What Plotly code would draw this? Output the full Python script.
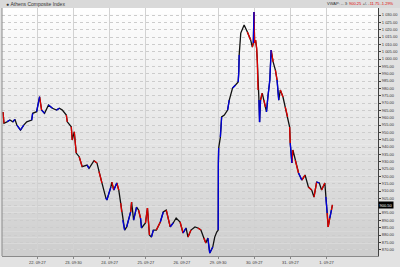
import plotly.graph_objects as go

# ---- data (day offsets from "22. 09:27", index level) ----
day_labels = ["22. 09:27", "23. 09:30", "24. 09:27", "25. 09:27", "26. 09:27",
              "29. 09:30", "30. 09:27", "31. 09:27", "1. 09:27"]
day_pos = [0, 1, 2, 3, 4, 5, 6, 7, 8]

t = [-0.950, -0.922, -0.840, -0.758, -0.676, -0.621, -0.566, -0.465, -0.375, -0.293,
     -0.156, -0.129, -0.019, 0.063, 0.118, 0.200, 0.309, 0.419, 0.528, 0.610,
     0.692, 0.802, 0.829, 0.939, 0.966, 1.021, 1.076, 1.158, 1.240, 1.377,
     1.431, 1.568, 1.650, 1.705, 1.787, 1.897, 1.924, 2.033, 2.061, 2.115,
     2.198, 2.252, 2.307, 2.334, 2.362, 2.416, 2.471, 2.581, 2.608, 2.663,
     2.745, 2.800, 2.854, 2.882, 2.991, 3.046, 3.101, 3.155, 3.210, 3.292,
     3.402, 3.484, 3.566, 3.676, 3.758, 3.840, 3.949, 4.031, 4.114, 4.168,
     4.250, 4.360, 4.442, 4.524, 4.606, 4.661, 4.716, 4.770, 4.852, 4.907,
     4.962, 5.003, 5.008, 5.016, 5.063, 5.098, 5.172, 5.263, 5.309, 5.400,
     5.482, 5.556, 5.572, 5.583, 5.627, 5.720, 5.810, 5.900, 5.947, 5.974,
     5.993, 6.010, 6.037, 6.065, 6.084, 6.103, 6.130, 6.147, 6.174, 6.221,
     6.267, 6.311, 6.338, 6.377, 6.431, 6.467, 6.522, 6.585, 6.631, 6.678,
     6.721, 6.795, 6.858, 6.924, 6.979, 6.995, 7.042, 7.069, 7.132, 7.225,
     7.315, 7.406, 7.499, 7.589, 7.652, 7.726, 7.800, 7.862, 7.953, 7.980,
     8.018, 8.045, 8.089, 8.136, 8.163]

price = [963.9, 956.2, 957.2, 958.4, 957.2, 958.9, 955.0, 951.6, 955.0, 957.2,
         958.4, 963.0, 964.1, 974.3, 965.2, 963.0, 968.6, 966.4, 965.2, 966.4,
         965.2, 961.8, 957.2, 953.8, 944.8, 950.4, 935.9, 933.4, 926.6, 927.7,
         925.5, 930.7, 929.1, 923.2, 915.5, 905.2, 903.9, 912.7, 916.1, 910.7,
         915.5, 910.7, 901.8, 895.7, 890.2, 883.4, 885.5, 895.7, 902.5, 890.2,
         899.1, 897.0, 891.6, 884.8, 888.2, 898.4, 880.0, 878.6, 883.4, 883.4,
         888.9, 895.7, 897.0, 885.5, 888.2, 891.6, 888.9, 881.4, 884.8, 878.6,
         883.4, 885.5, 884.8, 883.4, 878.0, 874.5, 878.0, 867.7, 871.8, 878.6,
         882.0, 883.4, 929.1, 939.3, 946.8, 960.5, 961.8, 965.2, 972.0, 980.2,
         982.3, 984.3, 991.1, 1002.7, 1017.7, 1023.2, 1018.4, 1013.0, 1008.2, 1010.9,
         1032.0, 1010.9, 1013.0, 1007.5, 999.3, 978.9, 972.0, 957.0, 972.0, 976.8,
         972.0, 967.3, 963.9, 974.1, 985.7, 1006.1, 998.0, 992.5, 985.7, 972.0,
         978.9, 974.1, 967.3, 960.5, 953.6, 942.7, 929.1, 938.0, 931.1, 922.3,
         917.5, 920.9, 912.7, 910.7, 905.9, 916.1, 915.5, 910.7, 915.5, 905.9,
         895.0, 885.5, 891.6, 897.0, 900.5]

# tick direction colour for the segment ending at each point
seg_color = "-rkbkbkbbkkbkbrbkbkbkkrkrkrkrkbkrkrkbbkrbrkrkbkbrkbkrbkrrkbkrbkrbkkrbkrkkrkrkbbkkkbbkbkkbkbkbbkkkrkrbrkrrrkbbrkrkbbbrkrbkrkrkrbrkrbrkrkrbkrkbrrbrbb"

y_ticks = [870 + 5 * i for i in range(33)]
title_text = "Athens Composite Index"
last_price = price[-1]

COL = {"k": "#111111", "r": "#e00000", "b": "#0000dd"}

fig = go.Figure()

# gradient background bands (style only)
nb = 40
for i in range(nb):
    c = int(255 - (255 - 206) * (i + 0.5) / nb)
    fig.add_shape(type="rect", xref="paper", yref="paper",
                  x0=0, x1=1, y0=1 - (i + 1) / nb, y1=1 - i / nb,
                  fillcolor=f"rgb({c},{c},{c})", line_width=0, layer="below")

# header bar
fig.add_shape(type="rect", xref="paper", yref="paper", x0=-0.01, x1=1.06,
              y0=1.0, y1=1.04, fillcolor="#d9d9d9", line_width=0, layer="below")

fig.add_trace(go.Scatter(x=t, y=price, mode="lines",
                         line=dict(color=COL["k"], width=1.3),
                         hoverinfo="skip", showlegend=False))

for key in ("r", "b"):
    xs, ys = [], []
    for i in range(1, len(t)):
        if seg_color[i] == key:
            xs += [t[i - 1], t[i], None]
            ys += [price[i - 1], price[i], None]
    fig.add_trace(go.Scatter(x=xs, y=ys, mode="lines",
                             line=dict(color=COL[key], width=1.3),
                             hoverinfo="skip", showlegend=False))

fig.add_annotation(xref="paper", yref="paper", x=0.005, y=1.018, xanchor="left",
                   yanchor="middle", text="<b>● </b>" + title_text, showarrow=False,
                   font=dict(family="Liberation Sans", size=5, color="#333333"))
fig.add_annotation(xref="paper", yref="paper", x=1.047, y=1.018, xanchor="right",
                   yanchor="middle",
                   text="VWAP: -- 3: <span style='color:#e00000'>900.25</span> +/- "
                        "<span style='color:#e00000'>-11.75</span> "
                        "<span style='color:#e00000'>-1.29%</span>",
                   showarrow=False,
                   font=dict(family="Liberation Sans", size=4, color="#333333"))

fig.add_annotation(xref="paper", yref="y", x=1.0, y=last_price, xanchor="left",
                   yanchor="middle", text=f"{last_price:.2f}", showarrow=False,
                   bgcolor="#000000", borderpad=0.5,
                   font=dict(family="Liberation Sans", size=4, color="#ffffff"))

# tick labels; the one under the last-price box is hidden by it in the original
tick_text = ["" if abs(v - last_price) < 2.5 else f"{v:,.2f}".replace(",", " ")
             for v in y_ticks]

fig.update_layout(
    width=400, height=267,
    margin=dict(l=2, r=18, t=8, b=11, pad=0),
    paper_bgcolor="#e2e2e2", plot_bgcolor="#f4f4f4",
    xaxis=dict(range=[-0.977, 9.423], tickmode="array", tickvals=day_pos,
               ticktext=day_labels, showgrid=True, gridcolor="#d2d2d2",
               gridwidth=1, zeroline=False, showline=True, linecolor="#8a8a8a",
               ticks="outside", ticklen=2, tickcolor="#8a8a8a",
               tickfont=dict(family="Liberation Sans", size=4, color="#333333")),
    yaxis=dict(range=[865.7, 1034.8], side="right", tickmode="array",
               tickvals=y_ticks, ticktext=tick_text, showgrid=True,
               gridcolor="#cccccc", griddash="dot", zeroline=False,
               showline=True, linecolor="#404040",
               ticks="outside", ticklen=2, tickcolor="#404040",
               tickfont=dict(family="Liberation Sans", size=4, color="#333333")),
)

fig.add_shape(type="line", xref="paper", yref="paper", x0=0, x1=0, y0=0, y1=1,
              line=dict(color="#8a8a8a", width=1))

fig.write_html("out.html")
